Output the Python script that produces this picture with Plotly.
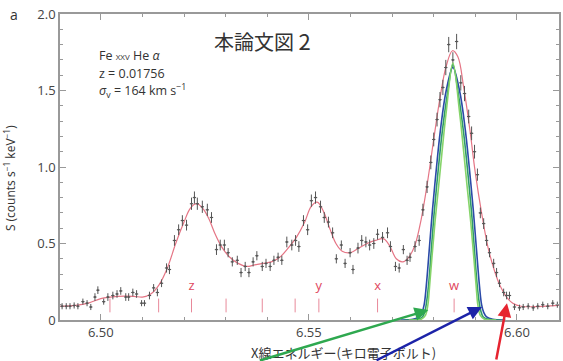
import plotly.graph_objects as go

# ---- observed spectrum (keV, counts s^-1 keV^-1) ----
energy = [6.4907, 6.4917, 6.4926, 6.4936, 6.4945, 6.4957, 6.4967, 6.4976, 6.4986, 6.4993,
          6.5007, 6.5017, 6.5029, 6.5039, 6.5048, 6.5060, 6.5067, 6.5077, 6.5086, 6.5098,
          6.5105, 6.5117, 6.5127, 6.5136, 6.5146, 6.5158, 6.5165, 6.5177, 6.5187, 6.5196,
          6.5206, 6.5218, 6.5225, 6.5232, 6.5244, 6.5256, 6.5266, 6.5278, 6.5287, 6.5297,
          6.5306, 6.5316, 6.5328, 6.5337, 6.5347, 6.5356, 6.5366, 6.5375, 6.5388, 6.5397,
          6.5407, 6.5416, 6.5426, 6.5435, 6.5447, 6.5459, 6.5468, 6.5476, 6.5487, 6.5497,
          6.5506, 6.5516, 6.5528, 6.5537, 6.5547, 6.5557, 6.5566, 6.5578, 6.5587, 6.5599,
          6.5606, 6.5618, 6.5627, 6.5637, 6.5646, 6.5656, 6.5665, 6.5677, 6.5689, 6.5696,
          6.5708, 6.5717, 6.5727, 6.5736, 6.5743, 6.5755, 6.5765, 6.5774, 6.5784, 6.5793,
          6.5800, 6.5808, 6.5815, 6.5822, 6.5829, 6.5836, 6.5846, 6.5855, 6.5865, 6.5874,
          6.5884, 6.5891, 6.5898, 6.5905, 6.5912, 6.5920, 6.5927, 6.5934, 6.5944, 6.5951,
          6.5958, 6.5968, 6.5975, 6.5982, 6.5994, 6.6006, 6.6015, 6.6027, 6.6039, 6.6050,
          6.6062, 6.6074, 6.6086, 6.6097]
flux = [0.09, 0.09, 0.09, 0.095, 0.09, 0.12, 0.11, 0.085, 0.15, 0.195,
        0.12, 0.15, 0.16, 0.17, 0.19, 0.15, 0.15, 0.18, 0.17, 0.11,
        0.11, 0.16, 0.21, 0.18, 0.24, 0.34, 0.33, 0.52, 0.59, 0.65,
        0.62, 0.76, 0.80, 0.76, 0.74, 0.72, 0.67, 0.46, 0.49, 0.49,
        0.44, 0.38, 0.39, 0.31, 0.35, 0.31, 0.38, 0.42, 0.35, 0.37,
        0.35, 0.39, 0.41, 0.39, 0.51, 0.49, 0.52, 0.48, 0.65, 0.59,
        0.78, 0.80, 0.74, 0.67, 0.64, 0.57, 0.40, 0.49, 0.37, 0.44,
        0.33, 0.47, 0.52, 0.51, 0.49, 0.50, 0.56, 0.54, 0.57, 0.48,
        0.35, 0.34, 0.46, 0.39, 0.41, 0.48, 0.52, 0.72, 0.87, 1.03,
        1.18, 1.31, 1.44, 1.52, 1.65, 1.80, 1.70, 1.82, 1.55, 1.48,
        1.33, 1.22, 1.10, 0.95, 0.70, 0.63, 0.52, 0.44, 0.37, 0.31,
        0.24, 0.18, 0.16, 0.16, 0.085, 0.08, 0.085, 0.09, 0.08, 0.09,
        0.10, 0.09, 0.11, 0.10]
flux_err = [0.02, 0.02, 0.02, 0.02, 0.02, 0.02, 0.02, 0.02, 0.025, 0.025,
            0.02, 0.025, 0.025, 0.025, 0.025, 0.025, 0.025, 0.025, 0.025, 0.02,
            0.02, 0.025, 0.025, 0.025, 0.025, 0.03, 0.03, 0.035, 0.035, 0.035,
            0.035, 0.04, 0.04, 0.04, 0.04, 0.04, 0.035, 0.035, 0.035, 0.035,
            0.03, 0.03, 0.03, 0.03, 0.03, 0.03, 0.03, 0.03, 0.03, 0.03,
            0.03, 0.03, 0.03, 0.03, 0.035, 0.035, 0.035, 0.035, 0.035, 0.035,
            0.04, 0.04, 0.04, 0.035, 0.035, 0.035, 0.03, 0.03, 0.03, 0.03,
            0.03, 0.035, 0.035, 0.035, 0.035, 0.035, 0.035, 0.035, 0.035, 0.035,
            0.03, 0.03, 0.03, 0.03, 0.03, 0.035, 0.035, 0.04, 0.04, 0.045,
            0.045, 0.045, 0.05, 0.05, 0.05, 0.05, 0.05, 0.05, 0.05, 0.05,
            0.045, 0.045, 0.045, 0.04, 0.035, 0.035, 0.035, 0.03, 0.03, 0.03,
            0.025, 0.025, 0.025, 0.025, 0.02, 0.02, 0.02, 0.02, 0.02, 0.02,
            0.02, 0.02, 0.02, 0.02]
bin_half_width = 0.0004

# ---- best-fit model (red line) ----
model_e = [6.4902, 6.4940, 6.4970, 6.5000, 6.5040, 6.5080, 6.5100, 6.5120, 6.5140, 6.5160,
           6.5180, 6.5200, 6.5215, 6.5230, 6.5245, 6.5260, 6.5275, 6.5290, 6.5310, 6.5330,
           6.5350, 6.5370, 6.5390, 6.5410, 6.5430, 6.5450, 6.5470, 6.5490, 6.5505, 6.5520,
           6.5535, 6.5550, 6.5565, 6.5580, 6.5600, 6.5620, 6.5640, 6.5660, 6.5680, 6.5695,
           6.5710, 6.5725, 6.5740, 6.5755, 6.5770, 6.5785, 6.5800, 6.5815, 6.5830, 6.5845,
           6.5858, 6.5872, 6.5887, 6.5900, 6.5915, 6.5930, 6.5945, 6.5960, 6.5975, 6.5990,
           6.6010, 6.6101]
model_s = [0.09, 0.095, 0.11, 0.14, 0.155, 0.155, 0.15, 0.17, 0.23, 0.34,
           0.50, 0.64, 0.73, 0.76, 0.73, 0.66, 0.56, 0.48, 0.41, 0.37,
           0.35, 0.36, 0.37, 0.38, 0.41, 0.47, 0.54, 0.64, 0.74, 0.77,
           0.71, 0.60, 0.50, 0.45, 0.44, 0.47, 0.50, 0.52, 0.53, 0.48,
           0.40, 0.38, 0.41, 0.49, 0.66, 0.90, 1.18, 1.45, 1.66, 1.76,
           1.72, 1.52, 1.24, 0.96, 0.70, 0.48, 0.33, 0.22, 0.15, 0.11,
           0.09, 0.095]

# ---- narrow w-line profiles ----
lgreen_e = [6.5740, 6.5770, 6.5780, 6.5786, 6.5790, 6.5796, 6.5803, 6.5812, 6.5820, 6.5830,
            6.5846, 6.5862, 6.5872, 6.5880, 6.5889, 6.5896, 6.5902, 6.5906, 6.5912, 6.5922,
            6.5950]
lgreen_s = [0.0, 0.005, 0.03, 0.10, 0.22, 0.42, 0.64, 0.88, 1.10, 1.36,
            1.68, 1.36, 1.10, 0.88, 0.64, 0.42, 0.22, 0.10, 0.03, 0.005,
            0.0]
dgreen_e = [6.5730, 6.5760, 6.5773, 6.5779, 6.5783, 6.5788, 6.5794, 6.5801, 6.5810, 6.5820,
            6.5833, 6.5846, 6.5859, 6.5872, 6.5882, 6.5891, 6.5898, 6.5904, 6.5909, 6.5913,
            6.5919, 6.5932, 6.5962]
dgreen_s = [0.0, 0.004, 0.02, 0.06, 0.12, 0.24, 0.45, 0.70, 0.96, 1.22,
            1.48, 1.67, 1.48, 1.22, 0.96, 0.70, 0.45, 0.24, 0.12, 0.06,
            0.02, 0.004, 0.0]
blue_e = [6.5720, 6.5750, 6.5765, 6.5772, 6.5777, 6.5782, 6.5789, 6.5797, 6.5806, 6.5816,
          6.5830, 6.5846, 6.5862, 6.5876, 6.5886, 6.5895, 6.5903, 6.5910, 6.5915, 6.5920,
          6.5927, 6.5942, 6.5972]
blue_s = [0.0, 0.004, 0.02, 0.05, 0.10, 0.22, 0.45, 0.72, 0.98, 1.24,
          1.50, 1.65, 1.50, 1.24, 0.98, 0.72, 0.45, 0.22, 0.10, 0.05,
          0.02, 0.004, 0.0]

# ---- line identifications ----
line_e = [6.5022, 6.5139, 6.5218, 6.5301, 6.5388, 6.5467, 6.5524, 6.5665, 6.5849]
line_lab = ["", "", "z", "", "", "", "y", "x", "w"]

x_ticks = [6.50, 6.55, 6.60]
x_ticklabels = ["6.50", "6.55", "6.60"]
y_ticks = [0, 0.5, 1.0, 1.5, 2.0]
y_ticklabels = ["0", "0.5", "1.0", "1.5", "2.0"]

RED = "#e0475e"
fig = go.Figure()

# line markers
for e in line_e:
    fig.add_shape(type="line", x0=e, x1=e, y0=0.05, y1=0.14, xref="x", yref="y",
                  line=dict(color="#e8899a", width=1))
fig.add_trace(go.Scatter(x=line_e, y=[0.215] * len(line_e), mode="text", text=line_lab,
                         textfont=dict(color=RED, size=13, family="Open Sans"),
                         hoverinfo="skip", showlegend=False))

fig.add_trace(go.Scatter(x=model_e, y=model_s, mode="lines", line=dict(color="#e57585", width=1.2, shape="spline"),
                         showlegend=False))
fig.add_trace(go.Scatter(x=energy, y=flux, mode="markers",
                         marker=dict(size=2, color="#555"),
                         error_y=dict(type="data", array=flux_err, width=0, thickness=1, color="#555"),
                         error_x=dict(type="constant", value=bin_half_width, width=0, thickness=1, color="#555"),
                         showlegend=False))
fig.add_trace(go.Scatter(x=blue_e, y=blue_s, mode="lines", line=dict(color="#2b4aa8", width=1.6, shape="spline"),
                         showlegend=False))
fig.add_trace(go.Scatter(x=dgreen_e, y=dgreen_s, mode="lines", line=dict(color="#2f9a6a", width=1.6, shape="spline"),
                         showlegend=False))
fig.add_trace(go.Scatter(x=lgreen_e, y=lgreen_s, mode="lines", line=dict(color="#86d46a", width=1.6, shape="spline"),
                         showlegend=False))

TXT = "#333"
ann = []
ann.append(dict(x=-0.104, y=1.0, xref="paper", yref="paper", text="a", showarrow=False,
                font=dict(size=14, color=TXT, family="Open Sans"), xanchor="left", yanchor="middle"))
ann.append(dict(x=0.305, y=0.915, xref="paper", yref="paper",
                text="本論文図 <span style='font-size:22px'>2</span>",
                showarrow=False, font=dict(size=20, color=TXT, family="Noto Sans CJK JP"),
                xanchor="left", yanchor="middle"))
ann.append(dict(x=0.074, y=0.866, xref="paper", yref="paper",
                text="Fe <span style='font-size:8px'>XXV</span> He <i>α</i>", showarrow=False,
                font=dict(size=12.5, color=TXT, family="Open Sans"), xanchor="left", yanchor="middle"))
ann.append(dict(x=0.074, y=0.807, xref="paper", yref="paper", text="z = 0.01756", showarrow=False,
                font=dict(size=12.5, color=TXT, family="Open Sans"), xanchor="left", yanchor="middle"))
ann.append(dict(x=0.074, y=0.750, xref="paper", yref="paper",
                text="<i>σ</i><sub>v</sub> = 164 km s<sup>−1</sup>", showarrow=False,
                font=dict(size=12.5, color=TXT, family="Open Sans"), xanchor="left", yanchor="middle"))
ann.append(dict(x=-0.1, y=0.464, xref="paper", yref="paper",
                text="S (counts s<sup>−1</sup> keV<sup>−1</sup>)", textangle=-90, showarrow=False,
                font=dict(size=12, color=TXT, family="Open Sans"), xanchor="center", yanchor="middle"))
ann.append(dict(x=0.569, y=-0.105, xref="paper", yref="paper",
                text="X線エネルギー(キロ電子ボルト)", showarrow=False,
                font=dict(size=13, color=TXT, family="Noto Sans CJK JP"), xanchor="center", yanchor="middle"))
# arrows
ann.append(dict(x=6.5787, y=0.065, xref="x", yref="y", ax=-170, ay=58, text="", showarrow=True,
                arrowhead=2, arrowsize=1.1, arrowwidth=2.5, arrowcolor="#2ea84f", standoff=0))
ann.append(dict(x=6.5916, y=0.085, xref="x", yref="y", ax=-107, ay=56, text="", showarrow=True,
                arrowhead=2, arrowsize=1.1, arrowwidth=2.5, arrowcolor="#1c23a8", standoff=0))
ann.append(dict(x=6.5976, y=0.11, xref="x", yref="y", ax=-11, ay=60, text="", showarrow=True,
                arrowhead=2, arrowsize=1.1, arrowwidth=2.5, arrowcolor="#e62430", standoff=0))

AX = "#999"
fig.update_layout(
    width=563, height=361, autosize=False,
    margin=dict(l=60, r=2, t=14, b=41),
    paper_bgcolor="white", plot_bgcolor="white",
    annotations=ann,
    xaxis=dict(range=[6.4902, 6.6101], tickvals=x_ticks, ticktext=x_ticklabels,
               showgrid=False, zeroline=False, showline=True, linecolor=AX, linewidth=1.5,
               mirror="ticks", ticks="inside", ticklen=6, tickcolor=AX,
               tickfont=dict(size=13, color="#444", family="Open Sans"),
               minor=dict(dtick=0.01, tick0=6.49, ticks="inside", ticklen=3, tickcolor=AX, showgrid=False)),
    yaxis=dict(range=[0, 2.0], tickvals=y_ticks, ticktext=y_ticklabels,
               showgrid=False, zeroline=False, showline=True, linecolor=AX, linewidth=1.5,
               mirror="ticks", ticks="inside", ticklen=6, tickcolor=AX,
               tickfont=dict(size=13, color="#444", family="Open Sans"),
               minor=dict(dtick=0.1, ticks="inside", ticklen=3, tickcolor=AX, showgrid=False)),
)

fig.write_html("out.html")
